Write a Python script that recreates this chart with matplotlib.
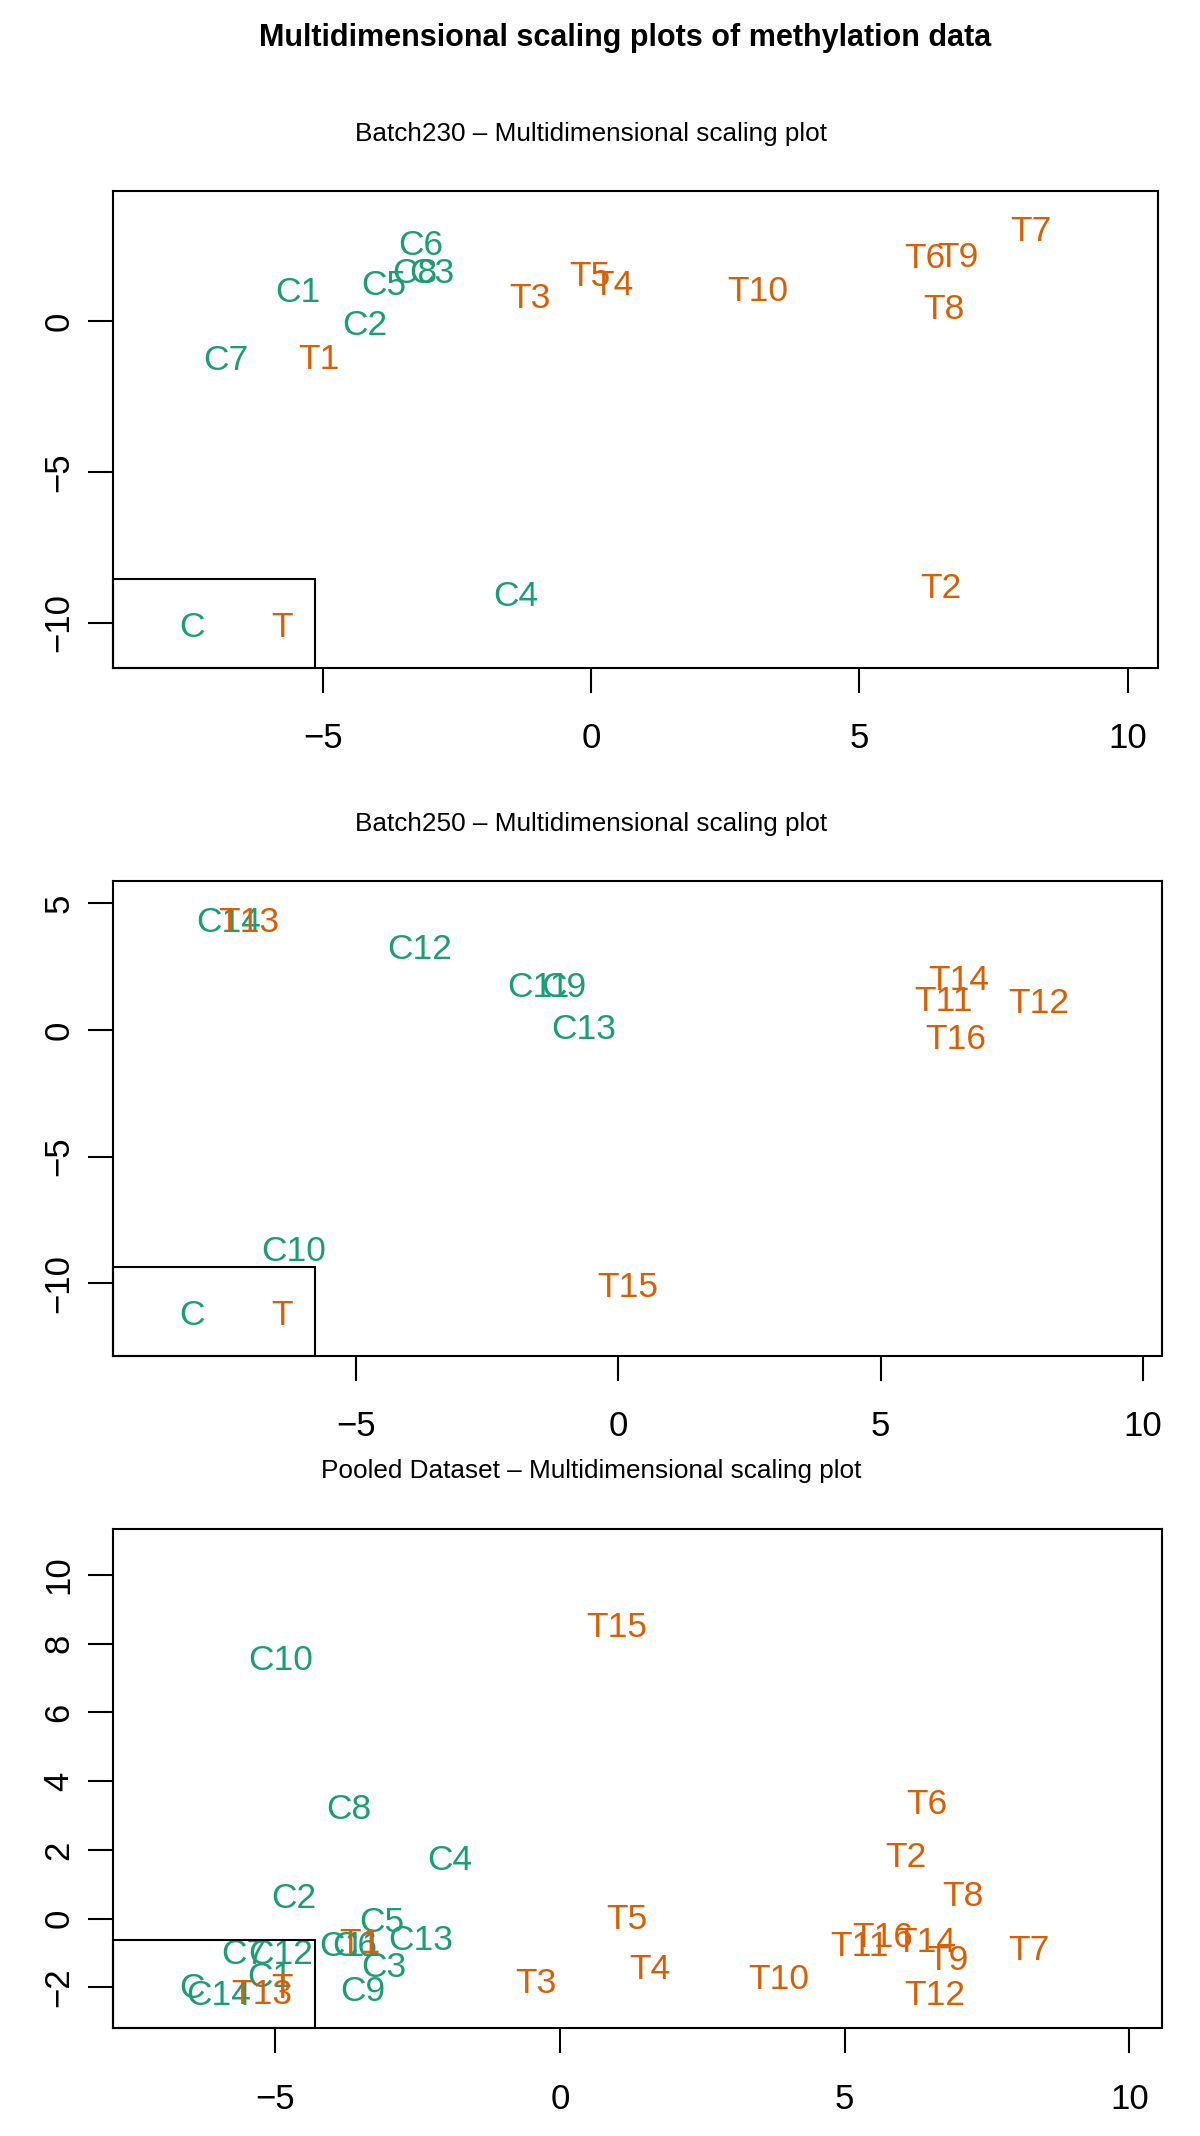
import matplotlib
matplotlib.use('Agg')
import matplotlib.pyplot as plt
import matplotlib.patches as mpatches
from matplotlib.ticker import MultipleLocator

plt.rcParams['font.family'] = ['Liberation Sans', 'DejaVu Sans']

GREEN = '#1B9E77'
ORANGE = '#D95F02'

# Batch230
labels_230 = ['C1', 'C2', 'C3', 'C4', 'C5', 'C6', 'C7', 'C8',
              'T1', 'T2', 'T3', 'T4', 'T5', 'T6', 'T7', 'T8', 'T9', 'T10']
dim1_230 = [-5.46, -4.21, -2.97, -1.40, -3.86, -3.17, -6.80, -3.28,
            -5.08, 6.52, -1.14, 0.40, -0.02, 6.22, 8.20, 6.57, 6.83, 3.10]
dim2_230 = [0.95, -0.14, 1.59, -9.14, 1.18, 2.52, -1.31, 1.59,
            -1.27, -8.87, 0.77, 1.19, 1.49, 2.08, 2.99, 0.41, 2.13, 1.00]

# Batch250
labels_250 = ['C9', 'C10', 'C11', 'C12', 'C13', 'C14',
              'T11', 'T12', 'T13', 'T14', 'T15', 'T16']
dim1_250 = [-1.04, -6.18, -1.53, -3.79, -0.65, -7.43,
            6.19, 8.02, -7.04, 6.49, 0.18, 6.44]
dim2_250 = [1.67, -8.76, 1.67, 3.15, 0.00, 4.25,
            1.10, 1.05, 4.25, 1.96, -10.16, -0.40]

# Pooled
labels_pool = ['C1', 'C2', 'C3', 'C4', 'C5', 'C6', 'C7', 'C8', 'C9', 'C10',
               'C11', 'C12', 'C13', 'C14',
               'T1', 'T2', 'T3', 'T4', 'T5', 'T6', 'T7', 'T8', 'T9', 'T10',
               'T11', 'T12', 'T13', 'T14', 'T15', 'T16']
dim1_pool = [-5.09, -4.68, -3.09, -1.94, -3.13, -3.60, -5.56, -3.71, -3.47, -4.90,
             -3.68, -4.91, -2.44, -5.99,
             -3.51, 6.08, -0.43, 1.58, 1.17, 6.44, 8.24, 7.08, 6.82, 3.85,
             5.26, 6.58, -5.23, 6.43, 1.00, 5.66]
dim2_pool = [-1.70, 0.59, -1.41, 1.70, -0.10, -0.80, -1.04, 3.19, -2.12, 7.50,
             -0.80, -1.04, -0.63, -2.23,
             -0.72, 1.78, -1.88, -1.49, -0.02, 3.31, -0.92, 0.65, -1.21, -1.76,
             -0.80, -2.24, -2.20, -0.68, 8.46, -0.54]

legend_labels = ['C', 'T']

FIG_W, FIG_H = 1200, 2136
fig = plt.figure(figsize=(12, 21.36), dpi=100)

panels = [
    ('Batch230 – Multidimensional scaling plot', labels_230, dim1_230, dim2_230,
     [0.0942, 0.6875, 0.8706, 0.2232], (-8.91, 10.56), (-11.49, 4.34), 5, 0.9375),
    ('Batch250 – Multidimensional scaling plot', labels_250, dim1_250, dim2_250,
     [0.0942, 0.3654, 0.8740, 0.2220], (-9.63, 10.36), (-12.85, 5.86), 5, 0.6142),
    ('Pooled Dataset – Multidimensional scaling plot', labels_pool, dim1_pool, dim2_pool,
     [0.0942, 0.0504, 0.8740, 0.2340], (-7.85, 10.57), (-3.19, 11.35), 2, 0.3113),
]

for title, labs, xs, ys, pos, xl, yl, ystep, ty in panels:
    ax = fig.add_axes(pos)
    for lab, x, y in zip(labs, xs, ys):
        ax.text(x, y, lab, ha='center', va='center', fontsize=25.5,
                color=GREEN if lab.startswith('C') else ORANGE)
    ax.set_xlim(*xl)
    ax.set_ylim(*yl)
    ax.xaxis.set_major_locator(MultipleLocator(5))
    ax.yaxis.set_major_locator(MultipleLocator(ystep))
    ax.tick_params(axis='both', direction='out', length=18, width=1.5,
                   labelsize=25)
    ax.tick_params(axis='x', pad=21)
    ax.tick_params(axis='y', pad=9)
    ax.tick_params(top=False, right=False)
    for lbl in ax.get_yticklabels():
        lbl.set_rotation(90)
        lbl.set_va('center')
    for s in ax.spines.values():
        s.set_linewidth(1.5)

    # legend box in R style (fixed pixel size, bottom left)
    ax_w = pos[2] * FIG_W
    ax_h = pos[3] * FIG_H
    ax.add_patch(mpatches.Rectangle((0, 0), 201.6 / ax_w, 88.5 / ax_h,
                                    transform=ax.transAxes, fill=False,
                                    edgecolor='black', linewidth=1.5,
                                    clip_on=False, zorder=5))
    for lab, dx in zip(legend_labels, [79, 169]):
        ax.text(dx / ax_w, 40 / ax_h, lab, transform=ax.transAxes,
                ha='center', va='center', fontsize=25.5,
                color=GREEN if lab == 'C' else ORANGE)

    fig.text(0.4926, ty, title, ha='center', va='center', fontsize=18.8)

fig.text(0.521, 0.9822, 'Multidimensional scaling plots of methylation data',
         ha='center', va='center', fontsize=22, fontweight='bold')

fig.savefig('out.png', dpi=100, facecolor='white')
